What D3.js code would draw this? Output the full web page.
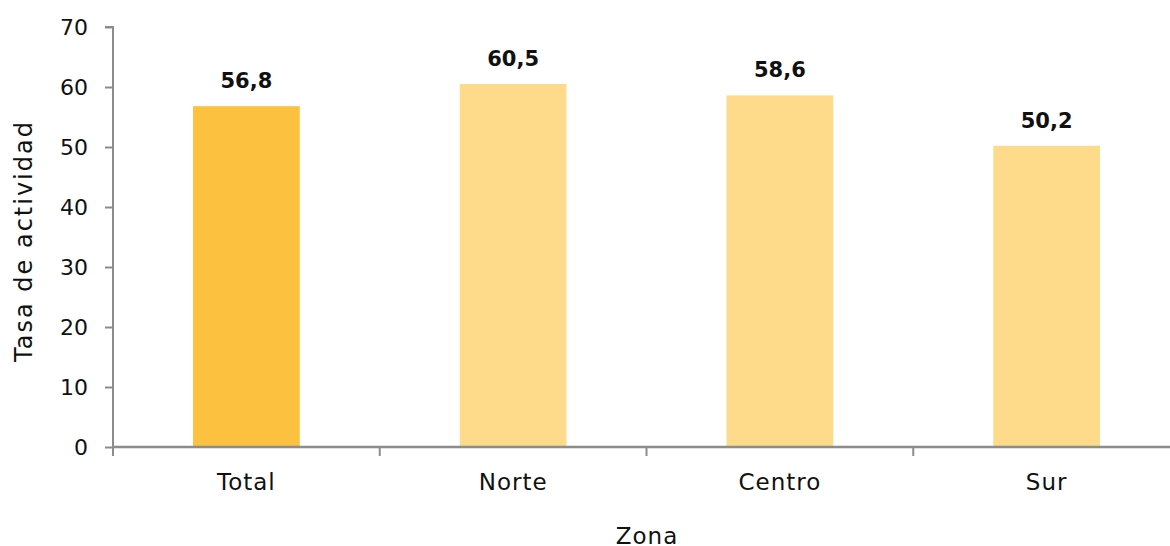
<!DOCTYPE html>
<html><head><meta charset="utf-8">
<script src="https://cdn.jsdelivr.net/npm/d3@7"></script>
<style>body{margin:0;background:#fff;} text{font-family:"DejaVu Sans",sans-serif;}</style>
</head><body><svg id="c" width="1170" height="546"></svg>
<script>
const categories = ["Total","Norte","Centro","Sur"];
const values = [56.8,60.5,58.6,50.2];
const yTicks = [0,10,20,30,40,50,60,70];
const colors = ["#FDC140","#FDDB8A","#FDDB8A","#FDDB8A"];

(function(){
const svg = d3.select("#c");
const mL = 113, mR = 1180, mT = 27, mB = 447;
const FONT = "DejaVu Sans, sans-serif";
const x = d3.scaleBand().domain(categories).range([mL,mR]).paddingInner(0.6).paddingOuter(0.3);
const xb = d3.scaleBand().domain(categories).range([mL,mR]);
const y = d3.scaleLinear().domain([0,70]).range([mB,mT]);

// bars
svg.selectAll("rect.bar").data(values).join("rect")
  .attr("x",(d,i)=>x(categories[i])).attr("width",x.bandwidth())
  .attr("y",d=>y(d)).attr("height",d=>y(0)-y(d)).attr("fill",(d,i)=>colors[i]);

// y axis
const ya = svg.append("g").attr("transform",`translate(${mL},0)`)
  .call(d3.axisLeft(y).tickValues(yTicks).tickSize(8).tickPadding(17));
ya.select(".domain").attr("stroke","#8c8c8c").attr("stroke-width",2).attr("d",`M-8,${mT}H0V${mB+9}`);
ya.selectAll(".tick line").attr("stroke","#8c8c8c").attr("stroke-width",2);
ya.selectAll(".tick text").attr("font-size",22).attr("fill","#111").style("font-family",FONT);

// x axis
const xa = svg.append("g").attr("transform",`translate(0,${mB})`);
xa.append("line").attr("x1",mL).attr("x2",mR).attr("stroke","#8c8c8c").attr("stroke-width",2.5);
xa.selectAll("line.t").data(categories).join("line").attr("class","t")
  .attr("x1",d=>xb(d)).attr("x2",d=>xb(d)).attr("y1",0).attr("y2",9)
  .attr("stroke","#8c8c8c").attr("stroke-width",2);
xa.selectAll("text").data(categories).join("text")
  .attr("x",d=>xb(d)+xb.bandwidth()/2).attr("y",43).attr("text-anchor","middle")
  .attr("font-size",23).attr("letter-spacing",1).attr("fill","#111").text(d=>d);

// value labels
svg.selectAll("text.val").data(values).join("text").attr("class","val")
  .attr("x",(d,i)=>x(categories[i])+x.bandwidth()/2).attr("y",d=>y(d)-18)
  .attr("text-anchor","middle").attr("font-size",21).attr("font-weight","bold").attr("fill","#111")
  .text(d=>d.toFixed(1).replace(".",","));

// titles
svg.append("text").attr("transform","translate(32,241) rotate(-90)").attr("text-anchor","middle")
  .attr("font-size",24).attr("letter-spacing",2).attr("fill","#111").text("Tasa de actividad");
svg.append("text").attr("x",647).attr("y",544).attr("text-anchor","middle")
  .attr("font-size",23).attr("letter-spacing",1).attr("fill","#111").text("Zona");
})();
</script></body></html>
